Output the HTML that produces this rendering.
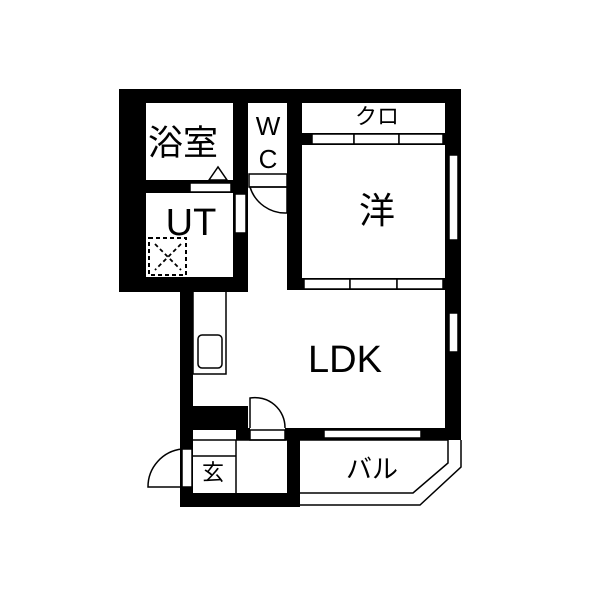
<!DOCTYPE html>
<html><head><meta charset="utf-8"><style>
html,body{margin:0;padding:0;background:#fff}
svg{display:block}
text{font-family:"Liberation Sans","Noto Sans CJK JP",sans-serif;fill:#000}
</style></head><body>
<svg width="600" height="600" viewBox="0 0 600 600">
<rect width="600" height="600" fill="#fff"/>
<g fill="#000">
<rect x="119" y="89" width="342" height="14"/>
<rect x="119" y="89" width="27" height="203"/>
<rect x="119" y="89" width="14" height="104"/>
<rect x="233" y="89" width="15" height="203"/>
<rect x="287" y="89" width="15" height="201"/>
<rect x="445" y="89" width="16" height="351"/>
<rect x="119" y="180" width="128" height="13"/>
<rect x="119" y="277" width="128" height="15"/>
<rect x="287" y="278" width="174" height="12"/>
<rect x="302" y="133" width="143" height="12"/>
<rect x="180" y="290" width="13" height="217"/>
<rect x="180" y="406" width="68" height="24"/>
<rect x="236" y="428" width="14" height="12"/>
<rect x="285" y="428" width="176" height="12"/>
<rect x="287" y="428" width="13" height="79"/>
<rect x="180" y="493" width="120" height="14"/>
</g>
<g fill="#fff" stroke="#000" stroke-width="1.5">
<rect x="312" y="134" width="42" height="10"/>
<rect x="354" y="134" width="45" height="10"/>
<rect x="399" y="134" width="44" height="10"/>
<rect x="304" y="279" width="46" height="10"/>
<rect x="350" y="279" width="47" height="10"/>
<rect x="397" y="279" width="46" height="10"/>
<rect x="449" y="155" width="9" height="85"/>
<rect x="449" y="313" width="9" height="39"/>
<rect x="324" y="430" width="97" height="8"/>
<rect x="190" y="183" width="41" height="9"/>
<rect x="235" y="194" width="11" height="39"/>
<rect x="249" y="174" width="38" height="13"/>
<rect x="250" y="430" width="35" height="10"/>
<rect x="182" y="449" width="10" height="38"/>
</g>
<path d="M209 180 L218 167 L227 180 Z" fill="#fff" stroke="#000" stroke-width="1.5"/>
<path d="M250 187 L287 187 L287 213 M250 187 A37 37 0 0 0 287 213" fill="none" stroke="#000" stroke-width="1.5"/>
<path d="M250 428 L250 398 A30 30 0 0 1 285 428" fill="none" stroke="#000" stroke-width="1.5"/>
<path d="M182 449 A38 38 0 0 0 148 487 L182 487" fill="none" stroke="#000" stroke-width="1.5"/>
<rect x="149" y="238" width="37" height="37" fill="none" stroke="#000" stroke-width="2" stroke-dasharray="4,3"/>
<path d="M155 244 L181 270 M181 244 L155 270" stroke="#000" stroke-width="1.8" stroke-dasharray="4,3"/>
<rect x="193" y="290" width="33" height="84" fill="none" stroke="#000" stroke-width="1.5"/>
<rect x="198" y="335" width="24" height="33" rx="4" fill="none" stroke="#000" stroke-width="1.5"/>
<path d="M193 440 L236 440 L236 493 M193 456 L236 456 M236 440 L287 440" fill="none" stroke="#000" stroke-width="1.5"/>
<path d="M300 440 L448 440 L448 463 L413 493 L300 493" fill="none" stroke="#000" stroke-width="1.5"/>
<path d="M461 440 L461 467 L420 505 L300 505" fill="none" stroke="#000" stroke-width="1.5"/>
<text x="183" y="155" font-size="35" text-anchor="middle">浴室</text>
<text x="268" y="135" font-size="26" text-anchor="middle">W</text>
<text x="268" y="168" font-size="26" text-anchor="middle">C</text>
<text x="377" y="124" font-size="22" text-anchor="middle">クロ</text>
<text x="377" y="223" font-size="36" text-anchor="middle">洋</text>
<text x="191" y="235" font-size="38" text-anchor="middle">UT</text>
<text x="345" y="372" font-size="38" text-anchor="middle">LDK</text>
<text x="213" y="480" font-size="22" text-anchor="middle">玄</text>
<text x="372" y="478" font-size="26" text-anchor="middle">バル</text>
</svg>
</body></html>
